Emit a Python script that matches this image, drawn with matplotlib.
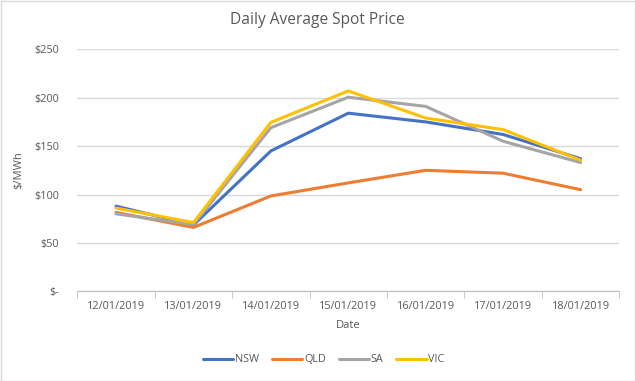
import matplotlib
matplotlib.use("Agg")
import matplotlib.pyplot as plt
from matplotlib.patches import Rectangle
from matplotlib.ticker import FixedLocator, FuncFormatter

dates = ["12/01/2019", "13/01/2019", "14/01/2019", "15/01/2019",
         "16/01/2019", "17/01/2019", "18/01/2019"]
nsw = [88, 68.5, 145, 184, 175, 162, 137]
qld = [81.5, 66, 98.5, 112, 125, 122, 105]
sa = [80, 69, 169, 200.5, 191, 155, 133]
vic = [86, 71, 174.5, 207, 179, 167, 135.5]

series = [("NSW", nsw, "#4472C4"), ("QLD", qld, "#ED7D31"),
          ("SA", sa, "#A5A5A5"), ("VIC", vic, "#FFC000")]

plt.rcParams['font.family'] = ['Open Sans', 'DejaVu Sans']
txt = "#595959"

fig = plt.figure(figsize=(6.35, 3.81), dpi=100)
ax = fig.add_axes([77.3/635, 1-291.3/381, (619.3-77.3)/635, (291.3-49.3)/381])

x = list(range(len(dates)))
for name, vals, col in series:
    ax.plot(x, vals, color=col, lw=2.2, label=name, solid_capstyle='round', solid_joinstyle='round')

ax.set_xlim(-0.5, len(dates) - 0.5)
ax.set_ylim(0, 250)
ax.set_yticks([0, 50, 100, 150, 200, 250])
ax.yaxis.set_major_formatter(FuncFormatter(lambda v, p: "$-" if v == 0 else f"${int(v)}"))
ax.grid(axis='y', color="#D9D9D9", lw=1)
ax.set_axisbelow(True)
for s in ["left", "right", "top"]:
    ax.spines[s].set_visible(False)
ax.spines["bottom"].set_color("#BFBFBF")
ax.tick_params(axis='y', length=0, labelsize=7.8, labelcolor=txt, pad=13)
ax.set_xticks(x)
ax.set_xticklabels(dates)
ax.tick_params(axis='x', which='major', length=0, labelsize=7.8, labelcolor=txt, pad=7)
ax.xaxis.set_minor_locator(FixedLocator([i - 0.5 for i in range(len(dates) + 1)]))
ax.tick_params(axis='x', which='minor', length=5, color="#BFBFBF", direction='out')

ax.set_xlabel("Date", fontsize=8, color=txt, labelpad=6)
ax.set_ylabel("$/MWh", fontsize=8, color=txt, labelpad=7)
fig.text(0.5, 1-20/381, "Daily Average Spot Price", ha='center', va='center', fontsize=11.2, color=txt)

fig.legend(loc='center', bbox_to_anchor=(0.51, 1-360/381), ncol=4, frameon=False,
           fontsize=7.8, labelcolor=txt, handlelength=2.8, columnspacing=1.2, handletextpad=0.15)

fig.patches.append(Rectangle((0.5/635, 0.5/381), 1-1/635, 1-1/381, transform=fig.transFigure,
                             fill=False, edgecolor="#D9D9D9", lw=1))
fig.savefig("out.png", dpi=100, facecolor="white")
